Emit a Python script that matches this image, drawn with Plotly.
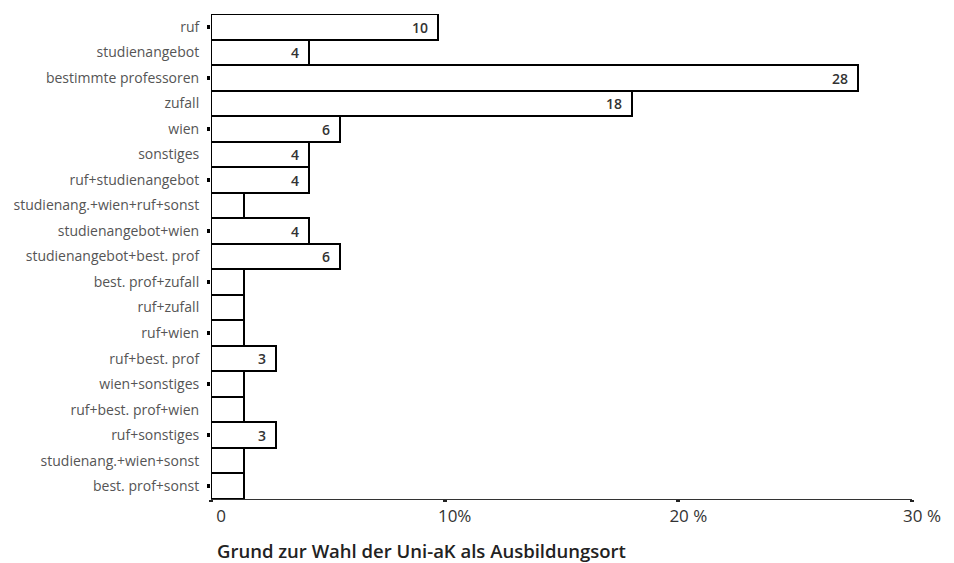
import plotly.graph_objects as go

categories = [
    "ruf", "studienangebot", "bestimmte professoren", "zufall", "wien",
    "sonstiges", "ruf+studienangebot", "studienang.+wien+ruf+sonst",
    "studienangebot+wien", "studienangebot+best. prof", "best. prof+zufall",
    "ruf+zufall", "ruf+wien", "ruf+best. prof", "wien+sonstiges",
    "ruf+best. prof+wien", "ruf+sonstiges", "studienang.+wien+sonst",
    "best. prof+sonst",
]
# bar length (percent scale)
share_pct = [9.7, 4.2, 27.7, 18.0, 5.5, 4.2, 4.2, 1.4, 4.2, 5.5,
             1.4, 1.4, 1.4, 2.8, 1.4, 1.4, 2.8, 1.4, 1.4]
# counts printed in the bars
counts = [10, 4, 28, 18, 6, 4, 4, 1, 4, 6, 1, 1, 1, 3, 1, 1, 3, 1, 1]

x_tickvals = [0, 10, 20, 30]
x_ticktext = ["0", "10%", "20 %", "30 %"]
x_title = "Grund zur Wahl der Uni-aK als Ausbildungsort"

bar_text = [str(c) if c > 1 else "" for c in counts]
tick_cats = categories[::2]

FONT = "Open Sans"

fig = go.Figure()
fig.add_trace(go.Bar(
    x=share_pct, y=categories, orientation="h",
    marker=dict(color="white", line=dict(color="black", width=2)),
    text=bar_text, texttemplate="%{text}\u2002",
    textposition="inside", insidetextanchor="end",
    textfont=dict(family=FONT, size=14, color="#333333", weight=600),
    textangle=0, constraintext="none",
    hoverinfo="skip", showlegend=False,
))
fig.add_trace(go.Scatter(
    x=share_pct, y=categories, yaxis="y2", mode="markers",
    marker=dict(opacity=0), hoverinfo="skip", showlegend=False,
))

# the page body adds an 8px offset, so the figure is 8px smaller
fig.update_layout(
    width=946, height=555,
    margin=dict(l=199, r=42, t=6, b=64),
    paper_bgcolor="white", plot_bgcolor="white",
    bargap=0,
    xaxis=dict(
        range=[0, 30], tickvals=x_tickvals, ticktext=x_ticktext,
        ticks="outside", ticklen=2, tickwidth=4, tickcolor="#222222",
        showline=True, linecolor="#333333", linewidth=1,
        showgrid=False, zeroline=False,
        tickfont=dict(family=FONT, size=17, color="#333333"),
        ticklabelshift=10,
    ),
    yaxis=dict(
        type="category", categoryorder="array", categoryarray=categories,
        range=[18.5, -0.5],
        ticks="outside", ticklen=8, tickcolor="rgba(0,0,0,0)",
        showline=False, showgrid=False, zeroline=False,
        tickfont=dict(family=FONT, size=14, color="#555555"),
    ),
    yaxis2=dict(
        type="category", categoryorder="array", categoryarray=categories,
        range=[18.5, -0.5], overlaying="y", side="left",
        tickvals=tick_cats, ticks="outside", ticklen=3, tickwidth=4,
        tickcolor="black", showticklabels=False,
        showline=False, showgrid=False, zeroline=False,
    ),
    annotations=[dict(
        text=x_title, xref="paper", yref="paper", x=0, y=0,
        xanchor="left", yanchor="top", xshift=4, yshift=-37,
        showarrow=False,
        font=dict(family=FONT, size=18.5, color="#222222", weight=600),
    )],
)

fig.write_html("out.html")
